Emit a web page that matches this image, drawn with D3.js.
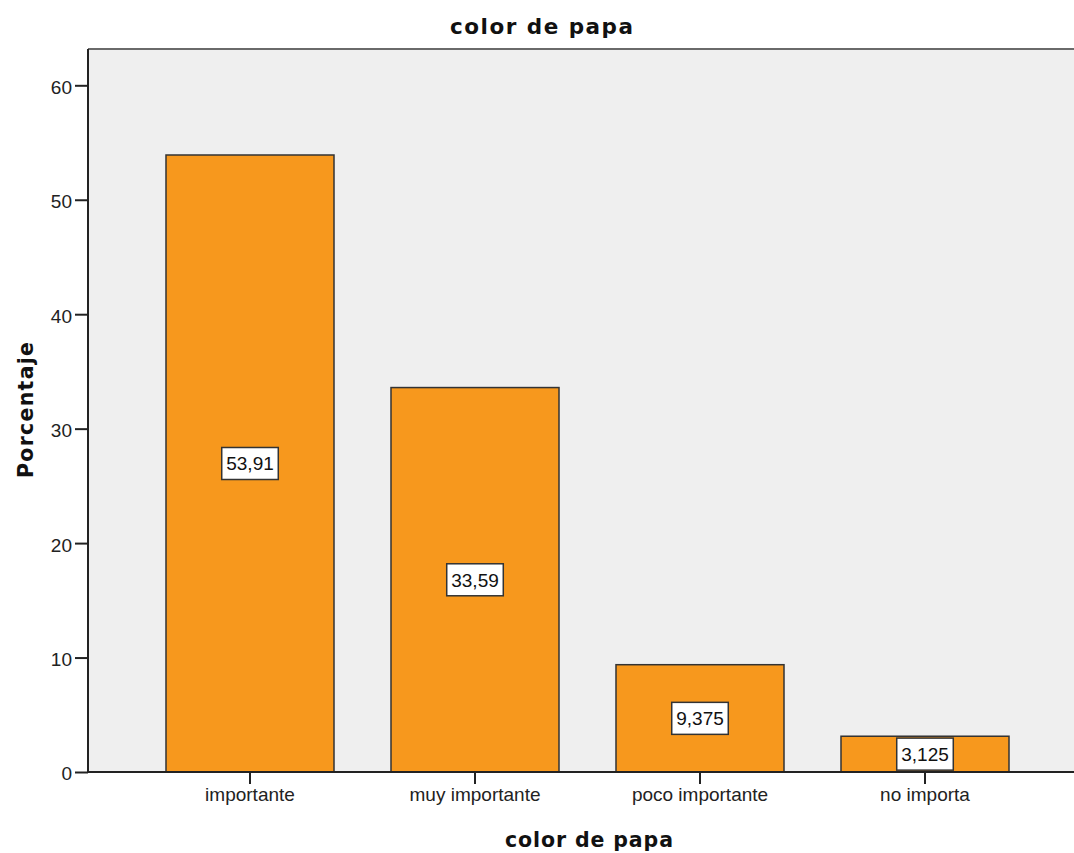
<!DOCTYPE html>
<html>
<head>
<meta charset="utf-8">
<script src="https://cdn.jsdelivr.net/npm/d3@7/dist/d3.min.js"></script>
<style>
  html, body { margin: 0; padding: 0; background: #ffffff; }
  svg { display: block; font-family: "Liberation Sans", Arial, sans-serif; }
</style>
</head>
<body>
<svg id="chart" width="1074" height="853"></svg>
<script>
// Percentage of respondents by importance given to potato colour
const categories = ["importante", "muy importante", "poco importante", "no importa"];
const percentages = [53.91, 33.59, 9.375, 3.125];
const valueLabels = ["53,91", "33,59", "9,375", "3,125"];
const yTicks = [0, 10, 20, 30, 40, 50, 60];

const chartTitle = "color de papa";
const xTitle = "color de papa";
const yTitle = "Porcentaje";

const svg = d3.select("#chart");
const plot = { left: 88, right: 1074, top: 49, bottom: 772 };
const titleFont = "DejaVu Sans, Verdana, sans-serif";

const y = d3.scaleLinear().domain([0, 60]).range([plot.bottom, 85.3]);
const x = d3.scaleBand()
  .domain(categories)
  .range([137.5, 1037.5])
  .paddingInner(0.2533)
  .paddingOuter(0.2533 / 2);

// plot background
svg.append("rect")
  .attr("x", plot.left).attr("y", plot.top)
  .attr("width", plot.right - plot.left)
  .attr("height", plot.bottom - plot.top)
  .attr("fill", "#efefef");

// top frame line
svg.append("line")
  .attr("x1", plot.left).attr("x2", plot.right)
  .attr("y1", plot.top).attr("y2", plot.top)
  .attr("stroke", "#6a6a6a").attr("stroke-width", 2);

// bars
svg.append("g").selectAll("rect")
  .data(categories)
  .join("rect")
  .attr("x", d => x(d))
  .attr("y", (d, i) => y(percentages[i]))
  .attr("width", x.bandwidth())
  .attr("height", (d, i) => y(0) - y(percentages[i]))
  .attr("fill", "#f7981d")
  .attr("stroke", "#333333")
  .attr("stroke-width", 1.5);

// value labels in white boxes at bar mid-height
const labels = svg.append("g").selectAll("g")
  .data(categories)
  .join("g")
  .attr("transform", (d, i) =>
    `translate(${x(d) + x.bandwidth() / 2},${(y(0) + y(percentages[i])) / 2})`);

labels.each(function (d, i) {
  const g = d3.select(this);
  const t = g.append("text")
    .attr("text-anchor", "middle")
    .attr("dy", "0.36em")
    .attr("font-size", 19)
    .attr("fill", "#111")
    .text(valueLabels[i]);
  const w = t.node().getComputedTextLength() + 9;
  const h = 32;
  g.insert("rect", "text")
    .attr("x", -w / 2).attr("y", -h / 2)
    .attr("width", w).attr("height", h)
    .attr("fill", "#ffffff")
    .attr("stroke", "#333333")
    .attr("stroke-width", 1.5);
});

// y axis
const yAxis = svg.append("g")
  .attr("transform", `translate(${plot.left},0)`)
  .call(d3.axisLeft(y).tickValues(yTicks).tickSize(13).tickPadding(3));
yAxis.select(".domain").attr("d", `M0,${plot.top}V${plot.bottom}`)
  .attr("stroke", "#222").attr("stroke-width", 2);
yAxis.selectAll(".tick line").attr("stroke", "#222").attr("stroke-width", 2);
yAxis.selectAll(".tick text")
  .attr("font-size", 19).attr("fill", "#222")
  .attr("font-family", "Liberation Sans, Arial, sans-serif")
  .attr("dy", "0.42em");

// x axis
const xAxis = svg.append("g")
  .attr("transform", `translate(0,${plot.bottom})`)
  .call(d3.axisBottom(x).tickSize(12).tickPadding(4));
xAxis.select(".domain").attr("d", `M${plot.left},0H${plot.right}`)
  .attr("stroke", "#222").attr("stroke-width", 2);
xAxis.selectAll(".tick line").attr("stroke", "#222").attr("stroke-width", 2);
xAxis.selectAll(".tick text")
  .attr("font-size", 19).attr("fill", "#222")
  .attr("font-family", "Liberation Sans, Arial, sans-serif");

// titles
svg.append("text")
  .attr("x", 541.5).attr("y", 34)
  .attr("text-anchor", "middle")
  .attr("font-family", titleFont)
  .attr("font-size", 21.5).attr("font-weight", "bold")
  .attr("fill", "#111")
  .attr("textLength", 183).attr("lengthAdjust", "spacing")
  .text(chartTitle);

svg.append("text")
  .attr("x", 589).attr("y", 847)
  .attr("text-anchor", "middle")
  .attr("font-family", titleFont)
  .attr("font-size", 20.5).attr("font-weight", "bold")
  .attr("fill", "#111")
  .attr("textLength", 168).attr("lengthAdjust", "spacing")
  .text(xTitle);

svg.append("text")
  .attr("transform", "translate(33,410) rotate(-90)")
  .attr("text-anchor", "middle")
  .attr("font-family", titleFont)
  .attr("font-size", 20.5).attr("font-weight", "bold")
  .attr("fill", "#111")
  .attr("textLength", 136).attr("lengthAdjust", "spacing")
  .text(yTitle);
</script>
</body>
</html>
